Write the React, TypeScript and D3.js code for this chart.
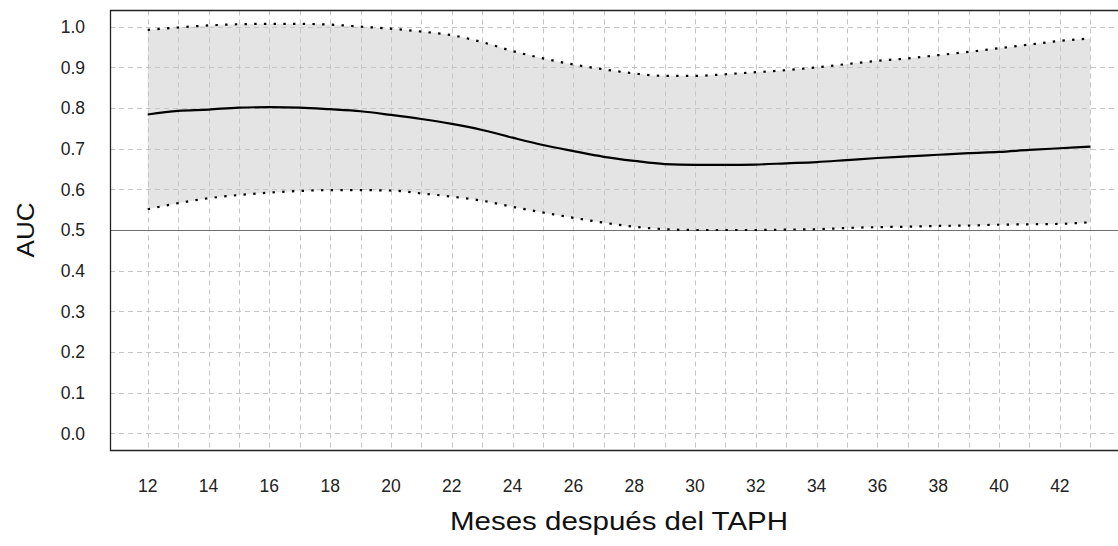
import React from 'react';
import * as d3 from 'd3';

// months after transplant
const months = [12, 13, 14, 15, 16, 17, 18, 19, 20, 21, 22, 23, 24, 25, 26, 27, 28, 29, 30, 31, 32, 33, 34, 35, 36, 37, 38, 39, 40, 41, 42, 43];

// AUC estimate and its confidence band
const aucMean = [0.784, 0.793, 0.796, 0.801, 0.802, 0.801, 0.797, 0.792, 0.783, 0.773, 0.761, 0.746, 0.727, 0.709, 0.694, 0.68, 0.67, 0.662, 0.66, 0.66, 0.661, 0.664, 0.667, 0.672, 0.677, 0.681, 0.685, 0.689, 0.692, 0.697, 0.701, 0.705];
const aucLower = [0.551, 0.566, 0.578, 0.586, 0.592, 0.596, 0.598, 0.598, 0.597, 0.59, 0.582, 0.572, 0.557, 0.543, 0.53, 0.518, 0.508, 0.502, 0.5, 0.5, 0.5, 0.501, 0.502, 0.505, 0.507, 0.508, 0.51, 0.511, 0.513, 0.514, 0.515, 0.519];
const aucUpper = [0.992, 0.998, 1.003, 1.006, 1.007, 1.007, 1.005, 1.0, 0.995, 0.988, 0.979, 0.962, 0.94, 0.922, 0.907, 0.895, 0.885, 0.879, 0.879, 0.883, 0.888, 0.893, 0.9, 0.908, 0.916, 0.922, 0.93, 0.938, 0.947, 0.956, 0.965, 0.971];

const xTicks = [12, 14, 16, 18, 20, 22, 24, 26, 28, 30, 32, 34, 36, 38, 40, 42];
const yTicks = [0, 0.1, 0.2, 0.3, 0.4, 0.5, 0.6, 0.7, 0.8, 0.9, 1.0];

const W = 1118;
const H = 546;

export default function App() {
  const left = 110;
  const right = 1128; // plot box runs past the window edge
  const top = 10.4;
  const bottom = 449.6;

  const x = d3.scaleLinear().domain([10.76, 44.24]).range([left, right]);
  const y = d3.scaleLinear().domain([-0.04, 1.04]).range([bottom, top]);

  const rows = months.map((m, i) => ({ m, mean: aucMean[i], lo: aucLower[i], hi: aucUpper[i] }));

  const band = d3.area<any>()
    .x((d) => x(d.m))
    .y0((d) => y(d.lo))
    .y1((d) => y(d.hi))
    .curve(d3.curveMonotoneX);
  const line = (key: string) =>
    d3.line<any>()
      .x((d) => x(d.m))
      .y((d) => y(d[key]))
      .curve(d3.curveMonotoneX)(rows) as string;

  const font = 'Arial, "Liberation Sans", sans-serif';
  const gridMonths = d3.range(12, 44);

  return (
    <svg
      width={W}
      height={H}
      style={{ position: 'absolute', left: 0, top: 0, background: '#fff' }}
      fontFamily={font}
    >
      <rect width={W} height={H} fill="#fff" />

      {/* confidence band */}
      <path d={band(rows) as string} fill="#e4e4e4" stroke="none" />

      {/* grid */}
      {gridMonths.map((m) => (
        <line key={'gx' + m} x1={Math.round(x(m)) + 0.5} x2={Math.round(x(m)) + 0.5} y1={top} y2={bottom}
          stroke="#c6c6c6" strokeWidth={1} strokeDasharray="5 4" />
      ))}
      {yTicks.map((t) => (
        <line key={'gy' + t} x1={left} x2={right} y1={Math.round(y(t)) + 0.5} y2={Math.round(y(t)) + 0.5}
          stroke="#c6c6c6" strokeWidth={1} strokeDasharray="5 4" />
      ))}

      {/* reference at AUC = 0.5 */}
      <line x1={left} x2={right} y1={Math.round(y(0.5)) + 0.5} y2={Math.round(y(0.5)) + 0.5} stroke="#707070" strokeWidth={1} />

      {/* band edges and estimate */}
      <path d={line('hi')} fill="none" stroke="#000" strokeWidth={2.2} strokeDasharray="2.4 7.3" />
      <path d={line('lo')} fill="none" stroke="#000" strokeWidth={2.2} strokeDasharray="2.4 7.3" />
      <path d={line('mean')} fill="none" stroke="#000" strokeWidth={2.2} />

      {/* box */}
      <path d={`M${right},${Math.round(top) + 0.5}H${left + 0.5}V${Math.round(bottom) + 0.5}H${right}`}
        fill="none" stroke="#222" strokeWidth={1.3} />

      {/* y tick labels */}
      {yTicks.map((t) => (
        <text key={'yl' + t} x={85} y={y(t) + 6.2} textAnchor="end" fontSize={17.5} fill="#222">
          {t.toFixed(1)}
        </text>
      ))}

      {/* x tick labels */}
      {xTicks.map((t) => (
        <text key={'xl' + t} x={x(t)} y={492} textAnchor="middle" fontSize={17.5} fill="#222">
          {t}
        </text>
      ))}

      <text x={(left + right) / 2} y={530} textAnchor="middle" fontSize={26} fill="#111"
        textLength={338} lengthAdjust="spacingAndGlyphs">
        Meses después del TAPH
      </text>
      <text transform={`translate(34,${y(0.5)}) rotate(-90)`} textAnchor="middle" fontSize={24} fill="#111"
        textLength={55} lengthAdjust="spacingAndGlyphs">
        AUC
      </text>
    </svg>
  );
}
